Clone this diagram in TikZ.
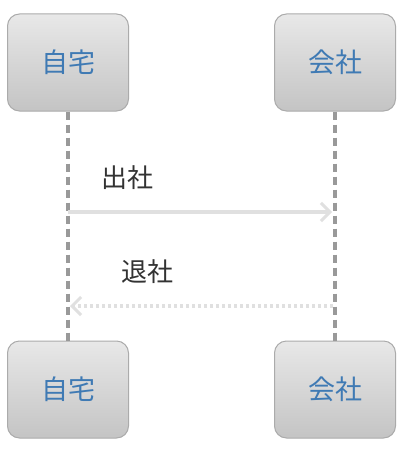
\documentclass[tikz,border=0pt]{standalone}
\usepackage{fontspec}
\newfontfamily\cjk{Noto Sans CJK JP}
\usetikzlibrary{arrows.meta}
\definecolor{boxtop}{HTML}{E8E8E8}
\definecolor{boxbot}{HTML}{C4C4C4}
\definecolor{boxline}{HTML}{ABABAB}
\definecolor{txtblue}{HTML}{3F7AB4}
\definecolor{lifeline}{HTML}{999999}
\definecolor{msgline}{HTML}{E0E0E0}
\definecolor{lbl}{HTML}{333333}
\begin{document}
\begin{tikzpicture}[x=1pt,y=-1pt,
  actorbox/.style={draw=boxline, line width=1pt, rounded corners=12pt,
    top color=boxtop, bottom color=boxbot, minimum width=121pt, minimum height=97pt,
    inner sep=0pt, text=txtblue, font=\cjk\fontsize{27}{30}\selectfont},
  lifestyle/.style={draw=lifeline, line width=4pt, dash pattern=on 8pt off 5pt},
  msgstyle/.style={draw=msgline, line width=3.5pt, -{Straight Barb[length=9pt,width=18pt,line width=3pt]}},
  retstyle/.style={draw=msgline, line width=3.5pt, dash pattern=on 3pt off 3pt, -{Straight Barb[length=9pt,width=18pt,line width=3pt]}},
  lblstyle/.style={text=lbl, font=\cjk\fontsize{26}{30}\selectfont, inner sep=0pt}]
\useasboundingbox (0,0) rectangle (404,452);
\fill[white] (0,0) rectangle (404,452);
\node[actorbox] (a1) at (68,62.5) {自宅};
\node[actorbox] (b1) at (335,62.5) {会社};
\node[actorbox] (a2) at (68,389.5) {自宅};
\node[actorbox] (b2) at (335,389.5) {会社};
\draw[lifestyle] (a1.south) -- (a2.north);
\draw[lifestyle] (b1.south) -- (b2.north);
\coordinate (m1s) at (68,212);
\coordinate (m1e) at (332,212);
\coordinate (m2s) at (333,306);
\coordinate (m2e) at (70,306);
\draw[msgstyle] (m1s) -- (m1e);
\draw[retstyle] (m2s) -- (m2e);
\node[lblstyle] (l1) at (127,178) {出社};
\node[lblstyle] (l2) at (147,272) {退社};
\end{tikzpicture}
\end{document}
